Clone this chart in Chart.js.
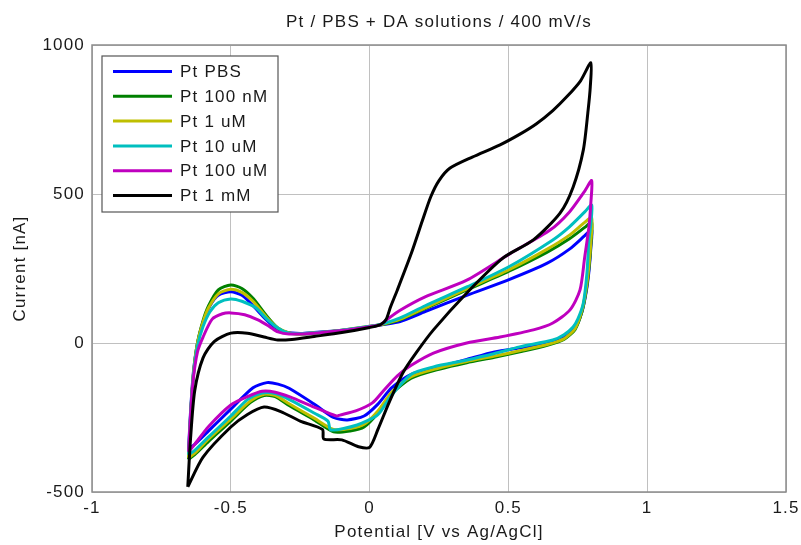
<!DOCTYPE html>
<html>
<head>
<meta charset="utf-8">
<script src="https://cdn.jsdelivr.net/npm/chart.js@4.4.1/dist/chart.umd.min.js"></script>
<style>
html,body{margin:0;padding:0;background:#fff;}
#wrap{width:801px;height:545px;position:relative;}
</style>
</head>
<body>
<div id="wrap"><canvas id="c" width="801" height="545"></canvas></div>
<script>
// ---- Data (potential in V vs Ag/AgCl, current in nA) ----
const chartTitle = 'Pt / PBS + DA solutions / 400 mV/s';
const xAxisTitle = 'Potential [V vs Ag/AgCl]';
const yAxisTitle = 'Current [nA]';
const seriesLabels = ['Pt PBS', 'Pt 100 nM', 'Pt 1 uM', 'Pt 10 uM', 'Pt 100 uM', 'Pt 1 mM'];
const seriesColors = ['#0000ff', '#008000', '#bfbf00', '#00bfbf', '#bf00bf', '#000000'];
const xTicks = [-1, -0.5, 0, 0.5, 1, 1.5];
const yTicks = [-500, 0, 500, 1000];

const pbsV = [-0.652,-0.645,-0.635,-0.62,-0.6,-0.575,-0.545,-0.5,-0.46,-0.42,-0.38,-0.34,-0.3,-0.25,-0.2,-0.1,0,0.05,0.11,0.2,0.35,0.5,0.64,0.72,0.775,0.8,
  0.797,0.79,0.78,0.765,0.74,0.7,0.64,0.55,0.45,0.35,0.25,0.15,0.08,0.03,-0.02,-0.08,-0.13,-0.2,-0.29,-0.33,-0.37,-0.42,-0.5,-0.58,-0.63,-0.652];
const pbsI = [-355,-230,-100,0,70,125,160,172,160,125,85,52,36,32,35,43,55,62,72,105,160,212,268,315,360,380,
  320,240,170,105,50,18,0,-15,-30,-55,-80,-105,-150,-205,-245,-258,-250,-205,-152,-138,-133,-150,-222,-295,-340,-355];

const nm100V = [-0.652,-0.645,-0.635,-0.62,-0.6,-0.58,-0.545,-0.5,-0.46,-0.42,-0.37,-0.33,-0.29,-0.25,-0.2,-0.1,0,0.05,0.11,0.2,0.35,0.5,0.64,0.72,0.775,0.8,
  0.797,0.79,0.78,0.765,0.74,0.7,0.64,0.55,0.45,0.35,0.25,0.15,0.08,0.03,-0.02,-0.07,-0.13,-0.2,-0.29,-0.34,-0.38,-0.43,-0.5,-0.58,-0.63,-0.652];
const nm100I = [-390,-250,-110,0,75,125,178,195,183,150,90,50,33,30,33,42,55,63,78,115,178,240,305,350,388,405,
  330,250,175,105,45,12,-8,-28,-48,-66,-88,-118,-170,-235,-282,-295,-298,-258,-210,-180,-176,-200,-262,-330,-375,-390];

const um1V = [-0.652,-0.645,-0.635,-0.62,-0.6,-0.58,-0.545,-0.5,-0.46,-0.42,-0.37,-0.33,-0.29,-0.25,-0.2,-0.1,0,0.05,0.11,0.2,0.35,0.5,0.64,0.72,0.775,0.8,
  0.797,0.79,0.78,0.765,0.74,0.7,0.64,0.55,0.45,0.35,0.25,0.15,0.08,0.03,-0.02,-0.07,-0.13,-0.2,-0.29,-0.34,-0.38,-0.43,-0.5,-0.58,-0.63,-0.652];
const um1I = [-385,-245,-105,0,70,118,165,180,170,140,85,50,34,31,34,43,56,64,80,118,182,245,315,362,405,420,
  340,260,182,110,48,14,-5,-24,-44,-62,-84,-113,-165,-228,-273,-287,-290,-252,-204,-176,-172,-195,-255,-322,-370,-385];

const um10V = [-0.652,-0.645,-0.635,-0.62,-0.6,-0.575,-0.545,-0.5,-0.46,-0.41,-0.37,-0.33,-0.29,-0.2,-0.1,0,0.05,0.11,0.2,0.35,0.5,0.66,0.72,0.775,0.8,
  0.797,0.79,0.783,0.77,0.75,0.733,0.7,0.66,0.54,0.45,0.35,0.23,0.15,0.075,0.03,-0.045,-0.14,-0.15,-0.2,-0.287,-0.34,-0.387,-0.44,-0.5,-0.58,-0.63,-0.652];
const um10I = [-375,-240,-110,-10,55,105,135,148,140,118,80,50,33,34,43,56,65,84,125,188,255,346,390,440,463,
  400,346,235,134,80,54,28,10,-13,-35,-57,-80,-105,-180,-240,-275,-292,-262,-235,-191,-170,-168,-190,-245,-315,-360,-375];

const um100V = [-0.652,-0.645,-0.635,-0.62,-0.6,-0.567,-0.53,-0.5,-0.45,-0.4,-0.36,-0.33,-0.29,-0.2,-0.1,0,0.04,0.06,0.11,0.2,0.35,0.506,0.65,0.72,0.775,0.8,
  0.797,0.79,0.775,0.758,0.722,0.66,0.59,0.47,0.35,0.23,0.15,0.1,0.05,0.01,-0.05,-0.107,-0.12,-0.2,-0.287,-0.34,-0.387,-0.44,-0.5,-0.58,-0.63,-0.652];
const um100I = [-365,-240,-120,-30,20,80,98,101,95,77,55,37,30,33,42,55,62,77,110,155,211,300,379,440,510,545,
  470,389,289,178,111,67,44,20,0,-34,-75,-110,-160,-201,-228,-242,-245,-215,-181,-165,-162,-180,-208,-280,-340,-365];

const mm1V = [-0.655,-0.645,-0.63,-0.6,-0.56,-0.5,-0.44,-0.38,-0.33,-0.28,-0.2,-0.1,0,0.04,0.06,0.075,0.1,0.15,0.19,0.22,0.25,0.29,0.37,0.47,0.54,0.6,0.66,0.71,0.76,0.797,
  0.795,0.787,0.77,0.733,0.686,0.59,0.48,0.35,0.23,0.17,0.12,0.07,0.03,0,-0.04,-0.1,-0.165,-0.17,-0.25,-0.32,-0.38,-0.44,-0.5,-0.6,-0.655];
const mm1I = [-483,-320,-160,-50,5,33,33,20,10,12,22,35,52,62,80,120,178,300,410,490,545,587,624,665,700,735,780,826,880,940,
  860,780,648,523,436,346,285,168,44,-30,-100,-200,-290,-350,-348,-325,-322,-290,-262,-230,-215,-240,-282,-383,-483];

const seriesV = [pbsV, nm100V, um1V, um10V, um100V, mm1V];
const seriesI = [pbsI, nm100I, um1I, um10I, um100I, mm1I];

const FONT = "'Liberation Sans', Arial, Helvetica, sans-serif";
const SPACING = '1.2px';
const TEXT_COLOR = '#1a1a1a';

const datasets = seriesLabels.map((lab, k) => ({
  label: lab,
  data: seriesV[k].map((v, i) => ({x: v, y: seriesI[k][i]})),
  borderColor: seriesColors[k],
  backgroundColor: seriesColors[k],
  borderWidth: 3,
  showLine: true,
  pointRadius: 0,
  tension: 0.25,
  fill: false,
  order: -k
}));

const spacingPlugin = {
  id: 'spacing',
  beforeUpdate(chart) { chart.ctx.letterSpacing = SPACING; },
  beforeLayout(chart) { chart.ctx.letterSpacing = SPACING; },
  beforeDraw(chart) { chart.ctx.letterSpacing = SPACING; }
};

const framePlugin = {
  id: 'frame',
  afterDraw(chart) {
    const {ctx, chartArea: a} = chart;
    ctx.save();
    ctx.letterSpacing = SPACING;
    // title centered over the axes
    ctx.font = '17px ' + FONT;
    ctx.fillStyle = TEXT_COLOR;
    ctx.textAlign = 'center';
    ctx.textBaseline = 'middle';
    ctx.fillText(chartTitle, (a.left + a.right) / 2, 22);
    ctx.restore();
  },
  afterDatasetsDraw(chart) {
    const {ctx, chartArea: a} = chart;
    ctx.save();
    ctx.strokeStyle = '#8c8c8c';
    ctx.lineWidth = 1.5;
    ctx.strokeRect(a.left, a.top, a.right - a.left, a.bottom - a.top);
    // legend box inside plot
    const bx = 102, by = 56, bw = 176, bh = 156;
    ctx.fillStyle = '#ffffff';
    ctx.fillRect(bx, by, bw, bh);
    ctx.strokeStyle = '#555555';
    ctx.lineWidth = 1.2;
    ctx.strokeRect(bx, by, bw, bh);
    ctx.font = '17px ' + FONT;
    ctx.letterSpacing = SPACING;
    ctx.textBaseline = 'middle';
    ctx.textAlign = 'left';
    chart.data.datasets.forEach((ds, i) => {
      const y = 71.5 + i * 24.8;
      ctx.strokeStyle = ds.borderColor;
      ctx.lineWidth = 3;
      ctx.beginPath();
      ctx.moveTo(113, y);
      ctx.lineTo(172, y);
      ctx.stroke();
      ctx.fillStyle = TEXT_COLOR;
      ctx.fillText(ds.label, 180, y + 1);
    });
    ctx.restore();
  }
};

new Chart(document.getElementById('c'), {
  type: 'scatter',
  data: {datasets},
  options: {
    responsive: false,
    animation: false,
    devicePixelRatio: 1,
    layout: {padding: {left: 0, right: 15, top: 45, bottom: 0}},
    plugins: {
      legend: {display: false},
      tooltip: {enabled: false},
      title: {display: false}
    },
    scales: {
      x: {
        type: 'linear',
        min: -1, max: 1.5,
        afterBuildTicks: s => { s.ticks = xTicks.map(v => ({value: v})); },
        afterFit: s => { s.height = 53; s.paddingLeft = 0; s.paddingRight = 0; },
        ticks: {color: TEXT_COLOR, font: {family: FONT, size: 17}, padding: 6, maxRotation: 0, callback: v => String(v)},
        grid: {color: '#c0c0c0', lineWidth: 1, drawTicks: false},
        border: {display: false},
        title: {display: true, text: xAxisTitle, color: TEXT_COLOR, font: {family: FONT, size: 17}, padding: {top: 0, bottom: 2}}
      },
      y: {
        type: 'linear',
        min: -500, max: 1000,
        afterBuildTicks: s => { s.ticks = yTicks.map(v => ({value: v})); },
        afterFit: s => { s.width = 92; s.paddingTop = 0; s.paddingBottom = 0; },
        ticks: {color: TEXT_COLOR, font: {family: FONT, size: 17}, padding: 7, callback: v => String(v)},
        grid: {color: '#c0c0c0', lineWidth: 1, drawTicks: false},
        border: {display: false},
        title: {display: true, text: yAxisTitle, color: TEXT_COLOR, font: {family: FONT, size: 17}, padding: {top: 10, bottom: 0}}
      }
    }
  },
  plugins: [spacingPlugin, framePlugin]
});
</script>
</body>
</html>
